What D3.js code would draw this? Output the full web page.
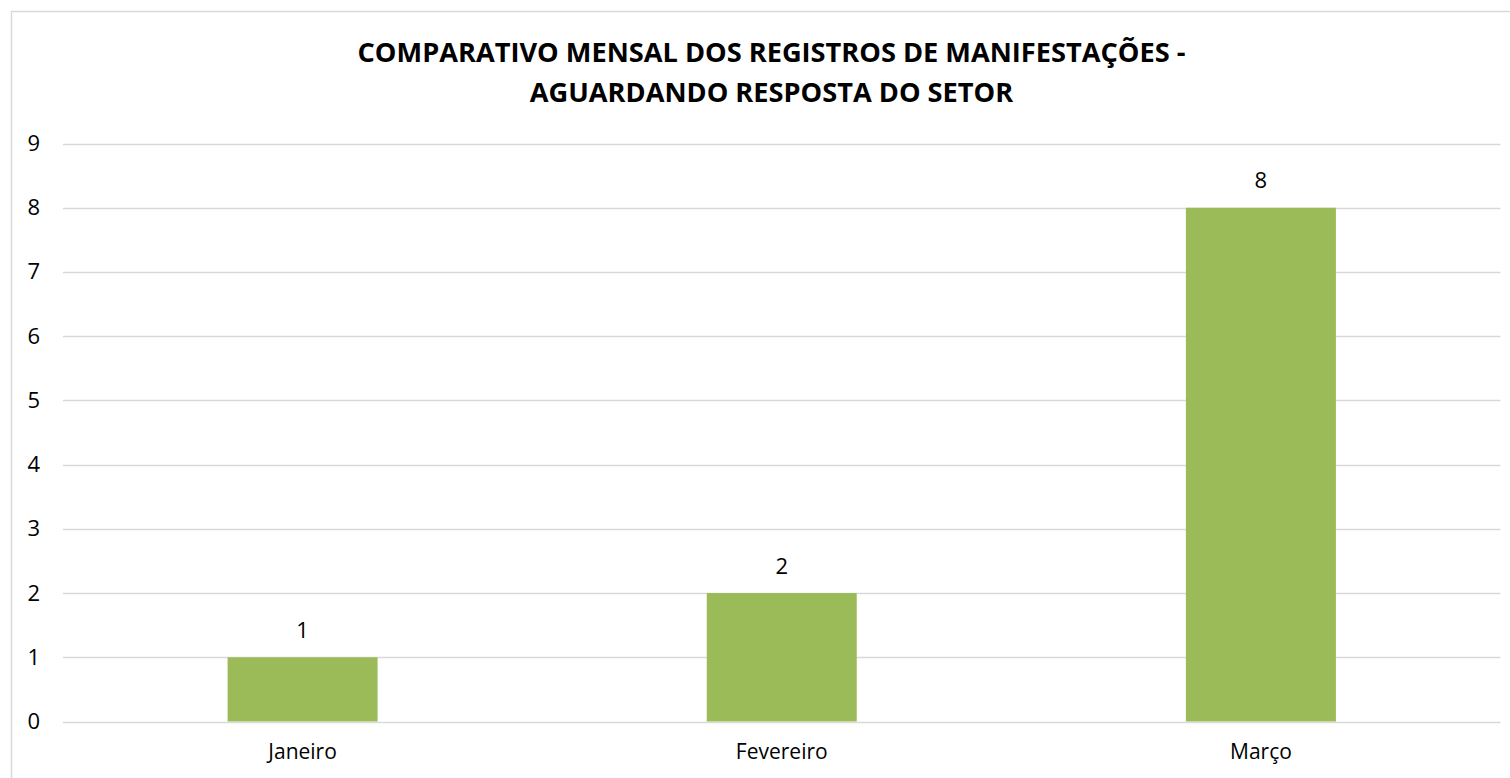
<!DOCTYPE html>
<html>
<head>
<meta charset="utf-8">
<script src="https://cdn.jsdelivr.net/npm/d3@7"></script>
<style>
  html, body { margin: 0; padding: 0; background: #fff; overflow: hidden; }
  svg text { font-family: "Open Sans", "Noto Sans", sans-serif; }
</style>
</head>
<body>
<div id="chart"></div>
<script>
// Dados do gráfico //
const meses = ["Janeiro", "Fevereiro", "Março"]
const valores = [1, 2, 8]
const ticksY = [0, 1, 2, 3, 4, 5, 6, 7, 8, 9]
const titulo = ["COMPARATIVO MENSAL DOS REGISTROS DE MANIFESTAÇÕES -", "AGUARDANDO RESPOSTA DO SETOR"]

const width = 1510
const height = 778
const margin = {top: 143.5, right: 9.5, bottom: 56.5, left: 63}

const svg = d3.select("#chart").append("svg")
    .attr("width", width)
    .attr("height", height)

// Borda da área do gráfico //
svg.append("rect")
    .attr("x", 11.5).attr("y", 11.5)
    .attr("width", 1540).attr("height", 800)
    .attr("fill", "#fff")
    .attr("stroke", "#d9d9d9")
    .attr("stroke-width", 1.5)

// Título //
svg.append("g").selectAll("text")
    .data(titulo)
    .enter()
    .append("text")
    .attr("x", 771.5)
    .attr("y", (d, i) => 62 + i * 40)
    .attr("text-anchor", "middle")
    .attr("font-size", 27.2)
    .attr("font-weight", "bold")
    .attr("fill", "#000")
    .text(d => d)

const x = d3.scaleBand()
    .domain(meses)
    .range([margin.left, width - margin.right])
    .paddingInner(0.687)
    .paddingOuter(0.3435)

const y = d3.scaleLinear()
    .domain([0, 9])
    .range([height - margin.bottom, margin.top])

// Linhas de grade //
svg.append("g").selectAll("line")
    .data(ticksY)
    .enter()
    .append("line")
    .attr("x1", margin.left)
    .attr("x2", width - margin.right)
    .attr("y1", d => Math.round(y(d)) + 0.5)
    .attr("y2", d => Math.round(y(d)) + 0.5)
    .attr("stroke", "#d9d9d9")
    .attr("stroke-width", 1.5)

// Eixo Y //
const eixoY = svg.append("g")
    .attr("transform", "translate(" + margin.left + ",0)")
    .call(d3.axisLeft(y).tickValues(ticksY).tickSize(0).tickPadding(23).tickFormat(d3.format("d")))
eixoY.select(".domain").remove()
eixoY.selectAll("text")
    .attr("font-size", 22)
    .attr("fill", "#000")
    .attr("font-family", "Open Sans")

// Barras //
svg.append("g").selectAll("rect")
    .data(valores)
    .enter()
    .append("rect")
    .attr("x", (d, i) => x(meses[i]))
    .attr("width", x.bandwidth())
    .attr("y", d => y(d))
    .attr("height", d => y(0) - y(d))
    .attr("fill", "#9bbb59")

// Rótulos de valor //
svg.append("g").selectAll("text")
    .data(valores)
    .enter()
    .append("text")
    .attr("x", (d, i) => x(meses[i]) + x.bandwidth() / 2)
    .attr("y", d => y(d) - 19.5)
    .attr("text-anchor", "middle")
    .attr("font-size", 22)
    .attr("fill", "#000")
    .text(d => d)

// Eixo X //
const eixoX = svg.append("g")
    .attr("transform", "translate(0," + y(0) + ")")
    .call(d3.axisBottom(x).tickSize(0).tickPadding(23))
eixoX.select(".domain").remove()
eixoX.selectAll("text")
    .attr("font-size", 21)
    .attr("fill", "#000")
    .attr("font-family", "Open Sans")
</script>
</body>
</html>
